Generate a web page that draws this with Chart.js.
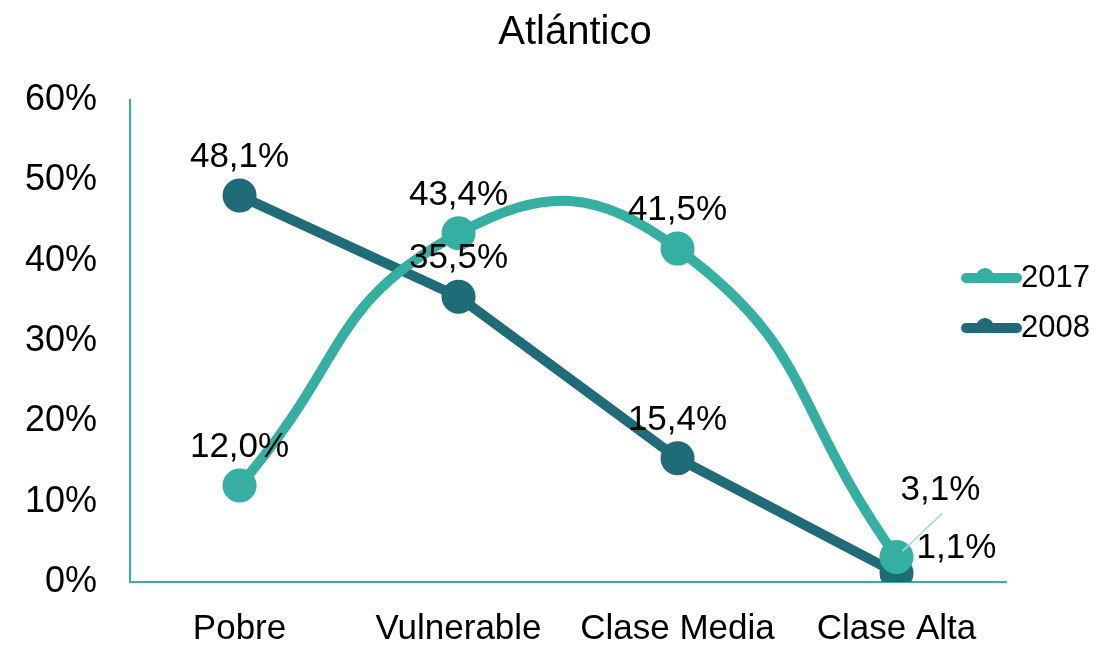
<!DOCTYPE html>
<html>
<head>
<meta charset="utf-8">
<script src="https://cdn.jsdelivr.net/npm/chart.js@4.4.1/dist/chart.umd.min.js"></script>
<style>
  body { margin: 0; background: #fff; }
</style>
</head>
<body>
<canvas id="myChart" width="1116" height="646"></canvas>
<script>
// Data
const categories = ["Pobre", "Vulnerable", "Clase Media", "Clase Alta"];
const values2017 = [0.120, 0.434, 0.415, 0.031];
const values2008 = [0.481, 0.355, 0.154, 0.011];
const seriesNames = ["2017", "2008"];
const chartTitle = "Atlántico";

const COLOR_2017 = "#35afa2";
const COLOR_2008 = "#1f6b78";
const FONT = "'Liberation Sans', Arial, sans-serif";

function pct(v) {
    return (v * 100).toFixed(1).replace(".", ",") + "%";
}

// Title drawn by hand so it sits where the original one is
const titleText = {
    id: "titleText",
    afterDraw(chart) {
        const ctx = chart.ctx;
        ctx.save();
        ctx.font = "40px " + FONT;
        ctx.fillStyle = "#000";
        ctx.textAlign = "center";
        ctx.textBaseline = "middle";
        ctx.fillText(chartTitle, 575, 33);
        ctx.restore();
    }
};

// Draw the value labels over the points
const valueLabels = {
    id: "valueLabels",
    afterDatasetsDraw(chart) {
        const ctx = chart.ctx;
        ctx.save();
        ctx.font = "35px " + FONT;
        ctx.fillStyle = "#000";
        ctx.textAlign = "center";
        ctx.textBaseline = "middle";
        chart.data.datasets.forEach(function(ds, di) {
            const meta = chart.getDatasetMeta(di);
            meta.data.forEach(function(pt, i) {
                let x = pt.x, y = pt.y - 38;
                if (i == 3 && di == 0) {
                    // label pulled out with a leader line
                    x = pt.x + 44; y = pt.y - 67;
                    ctx.strokeStyle = "#9fe0da";
                    ctx.lineWidth = 1.5;
                    ctx.beginPath();
                    ctx.moveTo(pt.x + 6, pt.y - 6);
                    ctx.lineTo(pt.x + 46, pt.y - 44);
                    ctx.stroke();
                }
                if (i == 3 && di == 1) {
                    x = pt.x + 60; y = pt.y - 25;
                }
                ctx.fillText(pct(ds.data[i]), x, y);
            });
        });
        ctx.restore();
    }
};

// Legend on the right: line with a round marker
const sideLegend = {
    id: "sideLegend",
    afterDraw(chart) {
        const ctx = chart.ctx;
        ctx.save();
        ctx.font = "31px " + FONT;
        ctx.textBaseline = "middle";
        ctx.textAlign = "left";
        chart.data.datasets.forEach(function(ds, i) {
            const y = 278 + i * 50;
            ctx.strokeStyle = ds.borderColor;
            ctx.lineWidth = 10;
            ctx.lineCap = "round";
            ctx.beginPath();
            ctx.moveTo(966, y);
            ctx.lineTo(1017, y);
            ctx.stroke();
            ctx.fillStyle = ds.borderColor;
            ctx.beginPath();
            ctx.arc(985, y - 1, 9, Math.PI, 2 * Math.PI);
            ctx.fill();
            ctx.fillStyle = "#000";
            ctx.fillText(ds.label, 1021, y);
        });
        ctx.restore();
    }
};

const ctx = document.getElementById("myChart");

const config = {
    type: "line",
    data: {
        labels: categories,
        datasets: [{
            label: seriesNames[0],
            data: values2017,
            borderColor: COLOR_2017,
            backgroundColor: COLOR_2017,
            borderWidth: 10,
            pointRadius: 12,
            pointHoverRadius: 12,
            tension: 0.5
        }, {
            label: seriesNames[1],
            data: values2008,
            borderColor: COLOR_2008,
            backgroundColor: COLOR_2008,
            borderWidth: 10,
            pointRadius: 12,
            pointHoverRadius: 12,
            tension: 0
        }]
    },
    options: {
        responsive: false,
        animation: false,
        layout: {
            // tick padding gets counted twice in the fit, so pull it back here
            padding: { left: -8, right: 110, top: 100, bottom: -30 }
        },
        plugins: {
            legend: { display: false },
            tooltip: { enabled: false },
            title: { display: false }
        },
        scales: {
            x: {
                offset: true,
                grid: { display: false, drawTicks: false },
                border: { color: COLOR_2017, width: 2 },
                ticks: {
                    color: "#000",
                    font: { family: FONT, size: 35 },
                    padding: 26
                }
            },
            y: {
                min: 0,
                max: 0.6,
                grid: { display: false, drawTicks: false },
                border: { color: COLOR_2017, width: 2 },
                ticks: {
                    stepSize: 0.1,
                    color: "#000",
                    font: { family: FONT, size: 36 },
                    padding: 33,
                    callback: function(v) { return Math.round(v * 100) + "%"; }
                }
            }
        }
    },
    plugins: [valueLabels, sideLegend, titleText]
};

const chart = new Chart(ctx, config);
</script>
</body>
</html>
